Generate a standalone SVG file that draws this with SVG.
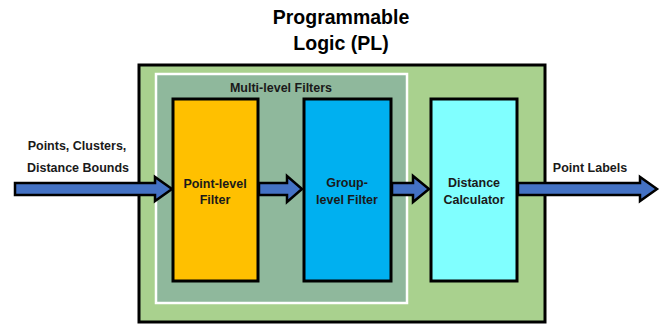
<svg xmlns="http://www.w3.org/2000/svg" width="662" height="324" viewBox="0 0 662 324">
<style>
text{font-family:"Liberation Sans",Arial,sans-serif;font-weight:bold;fill:#1a1a1a;text-anchor:middle}
.t{font-size:19.5px;fill:#000}
.l{font-size:12.5px}
.b{stroke:#000;stroke-width:3}
.arr{fill:#4472C4;stroke:#000;stroke-width:2.5;stroke-linejoin:miter}
</style>
<rect width="662" height="324" fill="#fff"/>
<g id="title">
<text class="t" x="341" y="24">Programmable</text>
<text class="t" x="341" y="50">Logic (PL)</text>
</g>
<g id="pl">
<rect class="b" x="139" y="65" width="406" height="257" fill="#A9D18E"/>
</g>
<g id="multi">
<rect x="156" y="74" width="251" height="229" fill="#8FB89C" stroke="#fff" stroke-width="2.5"/>
<text class="l" x="281" y="92">Multi-level Filters</text>
</g>
<g id="point">
<rect class="b" x="173" y="99" width="85" height="182" fill="#FFC000"/>
<text class="l" x="215" y="188">Point-level</text>
<text class="l" x="215" y="204">Filter</text>
</g>
<g id="group">
<rect class="b" x="304" y="99" width="87" height="182" fill="#00B0F0"/>
<text class="l" x="347" y="187">Group-</text>
<text class="l" x="347" y="204">level Filter</text>
</g>
<g id="dist">
<rect class="b" x="431" y="99" width="86" height="182" fill="#80FFFF"/>
<text class="l" x="474" y="187">Distance</text>
<text class="l" x="474" y="204">Calculator</text>
</g>
<g id="labels">
<text class="l" x="77" y="150">Points, Clusters,</text>
<text class="l" x="78" y="172">Distance Bounds</text>
<text class="l" x="590" y="172">Point Labels</text>
</g>
<g id="connectors">
<polygon class="arr" points="15,183 155,183 155,177 172,189 155,201 155,195 15,195"/>
<polygon class="arr" points="259,183 287,183 287,176 302,189 287,202 287,195 259,195"/>
<polygon class="arr" points="392,183 413,183 413,176 429,189 413,202 413,195 392,195"/>
<polygon class="arr" points="518,183 640,183 640,177 657,189 640,201 640,195 518,195"/>
</g>
</svg>
